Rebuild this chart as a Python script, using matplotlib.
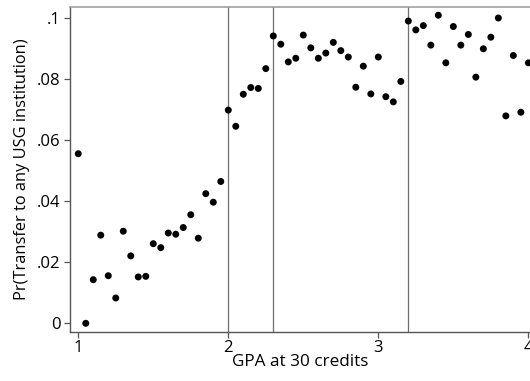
import numpy as np
import matplotlib.pyplot as plt

# binned GPA at 30 credits and share transferring to a USG institution
gpa = np.round(np.arange(1.0, 4.0001, 0.05), 2)
pr_transfer = [0.0556, 0.0000, 0.0143, 0.0289, 0.0156, 0.0083, 0.0302, 0.0221,
               0.0152, 0.0154, 0.0261, 0.0248, 0.0296, 0.0292, 0.0314, 0.0356,
               0.0279, 0.0425, 0.0397, 0.0465,
               0.0699, 0.0646, 0.0751, 0.0773, 0.0770, 0.0835, 0.0942, 0.0915,
               0.0857, 0.0869, 0.0945, 0.0903, 0.0869, 0.0886, 0.0921, 0.0894,
               0.0873, 0.0774, 0.0843, 0.0752, 0.0873, 0.0743, 0.0726, 0.0793,
               0.0991, 0.0962, 0.0976, 0.0912, 0.1010, 0.0854, 0.0973, 0.0912,
               0.0947, 0.0807, 0.0900, 0.0938, 0.1001, 0.0680, 0.0878, 0.0692,
               0.0854]
cutoffs = [2.0, 2.3, 3.2]
xticks = [1, 2, 3, 4]
yticks = [0, 0.02, 0.04, 0.06, 0.08, 0.1]
yticklabels = ['0', '.02', '.04', '.06', '.08', '.1']

plt.rcParams['font.family'] = ['Open Sans', 'DejaVu Sans']

fig = plt.figure(figsize=(5.30, 3.81), dpi=100)
ax = fig.add_axes([70/530, 1-332/381, 1-70/530, (332-7)/381])

for c in cutoffs:
    ax.axvline(c, color='#6e6e6e', lw=0.9, zorder=1)

ax.scatter(gpa, pr_transfer, s=25, color='black', edgecolors='none', zorder=3)

ax.set_xlim(0.945, 4.011)
ax.set_ylim(-0.00285, 0.1037)
ax.set_xticks(xticks)
ax.set_yticks(yticks)
ax.set_yticklabels(yticklabels)

ax.tick_params(axis='both', labelsize=12, length=4, width=0.9,
               color='#555555', direction='out')
ax.tick_params(axis='y', pad=3)
ax.tick_params(axis='x', pad=2)

ax.spines['right'].set_visible(False)
ax.spines['top'].set_color('#a0a0a0')
ax.spines['top'].set_linewidth(1.2)
for s in ['left', 'bottom']:
    ax.spines[s].set_color('#555555')
    ax.spines[s].set_linewidth(1.0)

ax.set_xlabel('GPA at 30 credits', fontsize=12.3, labelpad=-2)
ax.set_ylabel('Pr(Transfer to any USG institution)', fontsize=11.8, labelpad=5)

fig.savefig('out.png', dpi=100)
